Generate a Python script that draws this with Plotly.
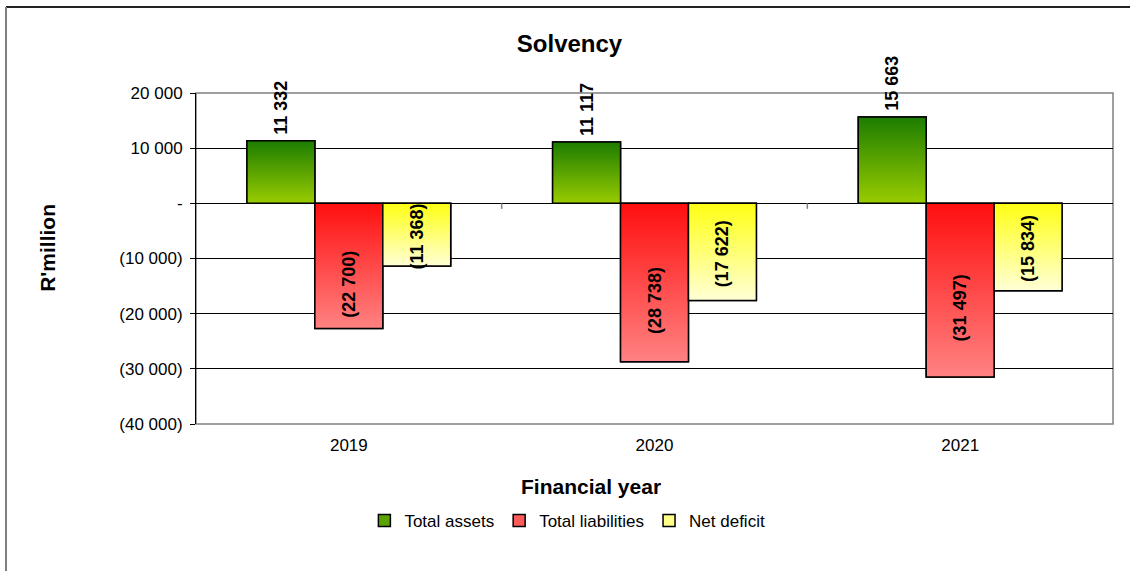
import plotly.graph_objects as go

# ---- data -------------------------------------------------------------
years = ["2019", "2020", "2021"]
series_names = ["Total assets", "Total liabilities", "Net deficit"]
total_assets = [11332, 11117, 15663]
total_liabilities = [-22700, -28738, -31497]
net_deficit = [-11368, -17622, -15834]

y_tickvals = [-40000, -30000, -20000, -10000, 0, 10000, 20000]
y_ticktext = ["(40 000)", "(30 000)", "(20 000)", "(10 000)", "-", "10 000", "20 000"]

# ---- styling ----------------------------------------------------------
FONT = "Liberation Sans, Arial, sans-serif"
BAR_W = 2 / 9
# (bottom-of-gradient, top-of-gradient, legend swatch)
styles = [
    ("#99cc00", "#1c7c00", "#5aa300"),
    ("#ff8282", "#ff0f0f", "#ff5a5a"),
    ("#ffffd6", "#ffff14", "#ffff88"),
]
label_shift = [4, -18, -2]


def fmt(v):
    s = f"{abs(v):,}".replace(",", " ")
    return f"({s})" if v < 0 else s


values = [total_assets, total_liabilities, net_deficit]
xs = list(range(len(years)))

fig = go.Figure()

annotations = []
for k, (name, vals, (c_lo, c_hi, c_mid)) in enumerate(zip(series_names, values, styles)):
    left_off = (k - 1.5) * BAR_W
    # plain bars (also provide the legend entries)
    fig.add_trace(go.Bar(
        x=xs, y=vals, name=name, width=BAR_W, offset=left_off,
        marker=dict(color=c_mid, line=dict(color="black", width=1.5)),
        hoverinfo="skip",
    ))
    # gradient overlay, one polygon per bar so each has its own gradient
    for i, v in zip(xs, vals):
        x0, x1 = i + left_off, i + left_off + BAR_W
        fig.add_trace(go.Scatter(
            x=[x0, x1, x1, x0, x0], y=[0, 0, v, v, 0],
            mode="lines", fill="toself",
            fillgradient=dict(type="vertical", colorscale=[[0, c_lo], [1, c_hi]]),
            line=dict(color="black", width=1.5),
            showlegend=False, hoverinfo="skip",
        ))
        xc = (x0 + x1) / 2
        if v >= 0:
            annotations.append(dict(
                x=xc, y=v, xref="x", yref="y", text=f"<b>{fmt(v)}</b>",
                textangle=-90, showarrow=False, xanchor="center", yanchor="bottom",
                yshift=label_shift[k], font=dict(family=FONT, size=18, color="black"),
            ))
        else:
            annotations.append(dict(
                x=xc, y=v / 2, xref="x", yref="y", text=f"<b>{fmt(v)}</b>",
                textangle=-90, showarrow=False, xanchor="center", yanchor="middle",
                yshift=label_shift[k], font=dict(family=FONT, size=18, color="black"),
            ))

# axis titles
annotations.append(dict(
    x=0.431, y=-0.19, xref="paper", yref="paper", text="<b>Financial year</b>",
    showarrow=False, xanchor="center", yanchor="middle",
    font=dict(family=FONT, size=21, color="black"),
))
annotations.append(dict(
    x=-0.1615, y=0.532, xref="paper", yref="paper", text="<b>R'million</b>",
    textangle=-90, showarrow=False, xanchor="center", yanchor="middle",
    font=dict(family=FONT, size=21, color="black"),
))

shapes = [
    # plot-area frame
    dict(type="rect", xref="paper", yref="paper", x0=0, x1=1, y0=0, y1=1,
         line=dict(color="#808080", width=1.5), layer="below"),
    # outer chart frame (top and left edges)
    dict(type="line", xref="paper", yref="paper", x0=-0.2072, x1=1.02, y0=1.2598, y1=1.2598,
         line=dict(color="#222222", width=2)),
    dict(type="line", xref="paper", yref="paper", x0=-0.2072, x1=-0.2072, y0=1.2598, y1=-0.45,
         line=dict(color="#808080", width=2)),
]
# category separator ticks on the zero line
for b in [0.5, 1.5]:
    shapes.append(dict(type="line", xref="x", yref="y", x0=b, x1=b, y0=0, y1=-1000,
                       line=dict(color="#808080", width=1.5)))

fig.update_layout(
    width=1130, height=571,
    margin=dict(l=196, r=17, t=93, b=147),
    paper_bgcolor="white", plot_bgcolor="white",
    font=dict(family=FONT, size=17, color="black"),
    title=dict(text="<b>Solvency</b>", x=0.504, xref="container", xanchor="center",
               y=1 - 44 / 571, yref="container", yanchor="middle",
               font=dict(family=FONT, size=24, color="black")),
    barmode="overlay",
    showlegend=True,
    legend=dict(orientation="h", x=0.405, xanchor="center", y=-0.293, yanchor="middle",
                font=dict(family=FONT, size=17, color="black"), itemwidth=30,
                traceorder="normal"),
    xaxis=dict(range=[-0.5, 2.5], tickvals=xs, ticktext=years, showgrid=False,
               zeroline=False, showline=False, ticks="", ticklabelstandoff=9,
               tickfont=dict(family=FONT, size=17, color="black")),
    yaxis=dict(range=[-40000, 20000], tickvals=y_tickvals, ticktext=y_ticktext,
               showgrid=True, gridcolor="black", gridwidth=1, zeroline=False,
               showline=True, linecolor="black", linewidth=1,
               ticks="outside", ticklen=5, tickcolor="black", ticklabelstandoff=4,
               tickfont=dict(family=FONT, size=17, color="black")),
    annotations=annotations,
    shapes=shapes,
)

fig.write_html("out.html")
